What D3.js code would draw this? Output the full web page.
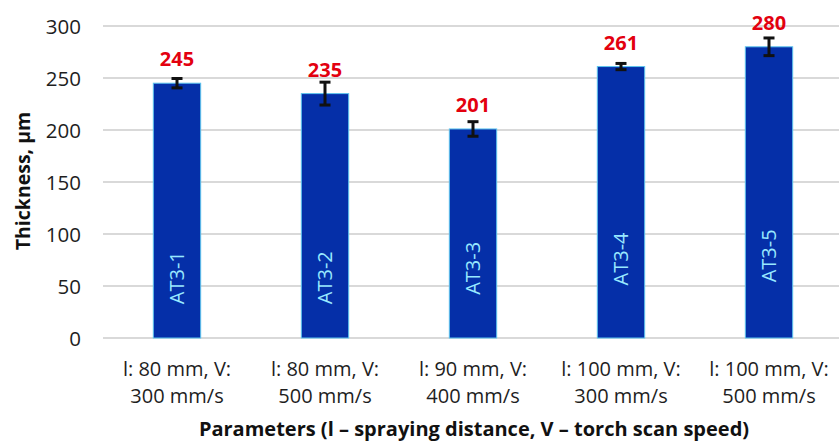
<!DOCTYPE html>
<html>
<head>
<meta charset="utf-8">
<script src="https://cdn.jsdelivr.net/npm/d3@7"></script>
<style>
  html, body { margin: 0; padding: 0; background: #fff; }
  svg { display: block; }
</style>
</head>
<body>
<svg id="chart" width="839" height="443"></svg>
<script>
// Coating thickness per spraying regime
const codes = ["AT3-1", "AT3-2", "AT3-3", "AT3-4", "AT3-5"];
const paramLine1 = ["l: 80 mm, V:", "l: 80 mm, V:", "l: 90 mm, V:", "l: 100 mm, V:", "l: 100 mm, V:"];
const paramLine2 = ["300 mm/s", "500 mm/s", "400 mm/s", "300 mm/s", "500 mm/s"];
const thickness = [245, 235, 201, 261, 280];
const deviation = [4.5, 11, 7, 3, 8.5];
const yTicks = [0, 50, 100, 150, 200, 250, 300];

// where the sample codes sit inside each bar (in µm along the axis)
const codeCentre = [58, 58, 67, 76, 79];

const svg = d3.select("#chart");
const font = "'Open Sans', sans-serif";

const x = d3.scaleBand()
  .domain(codes)
  .range([103, 843])
  .paddingInner(0.68)
  .paddingOuter(0.34);

const y = d3.scaleLinear().domain([0, 300]).range([338, 26]);

// gridlines
svg.append("g")
  .selectAll("line")
  .data(yTicks)
  .join("line")
  .attr("x1", 103).attr("x2", 843)
  .attr("y1", d => y(d)).attr("y2", d => y(d))
  .attr("stroke", "#d9d9d9")
  .attr("stroke-width", 2);

// y axis labels
const yAxis = d3.axisLeft(y).tickValues(yTicks).tickSize(0).tickPadding(0);
const gy = svg.append("g").attr("transform", "translate(81,0)").call(yAxis);
gy.select(".domain").remove();
gy.selectAll("text")
  .attr("font-family", font)
  .attr("font-size", 20.5)
  .attr("font-weight", 500)
  .attr("fill", "#1e1e1e")
  .attr("dy", "0.35em");

// bars
const rows = codes.map((c, i) => ({
  code: c, v: thickness[i], e: deviation[i], l1: paramLine1[i], l2: paramLine2[i], cc: codeCentre[i]
}));

svg.append("g")
  .selectAll("rect")
  .data(rows)
  .join("rect")
  .attr("x", d => x(d.code))
  .attr("y", d => y(d.v))
  .attr("width", x.bandwidth())
  .attr("height", d => y(0) - y(d.v))
  .attr("fill", "#052fa8")
  .attr("stroke", "#5cc4ee")
  .attr("stroke-width", 1);

// error bars
const eb = svg.append("g").attr("stroke", "#111").attr("stroke-width", 3);
rows.forEach(d => {
  const cx = x(d.code) + x.bandwidth() / 2;
  eb.append("line").attr("x1", cx).attr("x2", cx)
    .attr("y1", y(d.v + d.e)).attr("y2", y(d.v - d.e));
  [d.v + d.e, d.v - d.e].forEach(t => {
    eb.append("line").attr("x1", cx - 5.5).attr("x2", cx + 5.5)
      .attr("y1", y(t)).attr("y2", y(t));
  });
});

// value labels
svg.append("g")
  .selectAll("text")
  .data(rows)
  .join("text")
  .attr("x", d => x(d.code) + x.bandwidth() / 2)
  .attr("y", d => y(d.v) - 17)
  .attr("text-anchor", "middle")
  .attr("font-family", font)
  .attr("font-weight", 700)
  .attr("font-size", 20)
  .attr("fill", "#e3000f")
  .text(d => d.v);

// sample codes inside bars
svg.append("g")
  .selectAll("text")
  .data(rows)
  .join("text")
  .attr("transform", d => `translate(${x(d.code) + x.bandwidth() / 2},${y(d.cc)}) rotate(-90)`)
  .attr("text-anchor", "middle")
  .attr("dy", "0.36em")
  .attr("font-family", font)
  .attr("font-size", 20)
  .attr("fill", "#98e8ff")
  .text(d => d.code);

// category labels (two lines)
const cat = svg.append("g")
  .attr("font-family", font)
  .attr("font-size", 20)
  .attr("font-weight", 500)
  .attr("fill", "#1e1e1e")
  .attr("text-anchor", "middle");
rows.forEach(d => {
  const cx = x(d.code) + x.bandwidth() / 2;
  cat.append("text").attr("x", cx).attr("y", 376).text(d.l1);
  cat.append("text").attr("x", cx).attr("y", 403).text(d.l2);
});

// axis titles
svg.append("text")
  .attr("x", 474).attr("y", 436)
  .attr("text-anchor", "middle")
  .attr("font-family", font)
  .attr("font-weight", 700)
  .attr("font-size", 20)
  .attr("fill", "#111")
  .text("Parameters (l – spraying distance, V – torch scan speed)");

svg.append("text")
  .attr("transform", "translate(30,181) rotate(-90)")
  .attr("text-anchor", "middle")
  .attr("font-family", font)
  .attr("font-weight", 700)
  .attr("font-size", 19.5)
  .attr("fill", "#111")
  .text("Thickness, µm");
</script>
</body>
</html>
